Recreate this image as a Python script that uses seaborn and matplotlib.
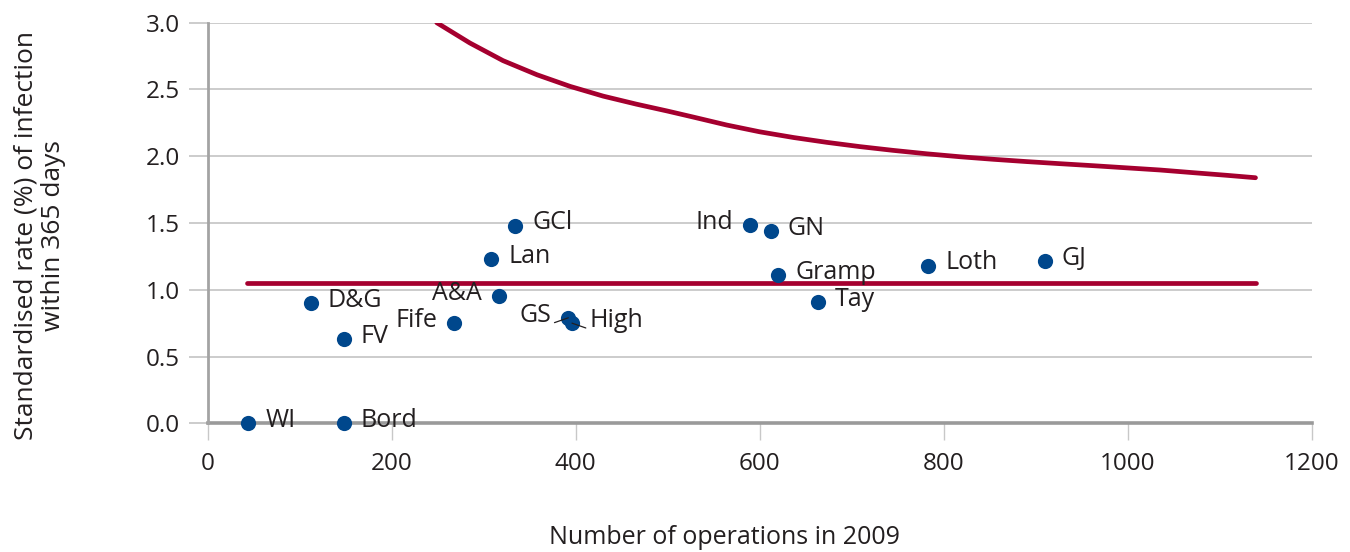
import matplotlib
matplotlib.use("Agg")
import matplotlib.pyplot as plt
import seaborn as sns
import pandas as pd

# ---- data ----
boards = ["WI", "Bord", "D&G", "FV", "Fife", "A&A", "Lan", "GCl", "GS", "High",
          "Ind", "GN", "Gramp", "Tay", "Loth", "GJ"]
operations = [44, 148, 112, 148, 268, 317, 308, 334, 392, 396,
              590, 612, 620, 663, 783, 910]
rates = [0.0, 0.0, 0.90, 0.63, 0.75, 0.95, 1.23, 1.48, 0.79, 0.75,
         1.485, 1.44, 1.11, 0.91, 1.18, 1.215]
# label side: +1 right, -1 left
label_side = [1, 1, 1, 1, -1, -1, 1, 1, -1, 1,
              -1, 1, 1, 1, 1, 1]

mean_x = [43, 1140]
mean_y = [1.05, 1.05]

limit_x = [249, 285, 321, 358, 394, 430, 466, 500, 528, 564, 600, 637, 673,
           709, 745, 782, 818, 854, 890, 927, 963, 999, 1035, 1071, 1108, 1139]
limit_y = [3.0, 2.848, 2.716, 2.610, 2.523, 2.450, 2.390, 2.338, 2.293, 2.234,
           2.183, 2.140, 2.104, 2.072, 2.044, 2.018, 1.996, 1.977, 1.960, 1.944,
           1.929, 1.913, 1.897, 1.877, 1.857, 1.839]

x_ticks = [0, 200, 400, 600, 800, 1000, 1200]
y_ticks = [0.0, 0.5, 1.0, 1.5, 2.0, 2.5, 3.0]
x_label = "Number of operations in 2009"
y_label = "Standardised rate (%) of infection\nwithin 365 days"

RED = "#A5002F"
BLUE = "#00478C"
TXT = "#231F20"
GRID = "#C8C8C8"

sns.set_theme(style="white")
plt.rcParams["font.family"] = ["Open Sans", "DejaVu Sans"]

fig = plt.figure(figsize=(13.5, 5.52), dpi=100)
ax = fig.add_axes([207.7 / 1350, 1 - 423.3 / 552, (1311.6 - 207.7) / 1350, (423.3 - 22.7) / 552])

pts = pd.DataFrame({"board": boards, "ops": operations, "rate": rates})
lim = pd.DataFrame({"ops": limit_x, "rate": limit_y})
mean = pd.DataFrame({"ops": mean_x, "rate": mean_y})

sns.lineplot(data=mean, x="ops", y="rate", ax=ax, color=RED, lw=3.4,
             solid_capstyle="round", zorder=3)
sns.lineplot(data=lim, x="ops", y="rate", ax=ax, color=RED, lw=3.4, sort=False,
             solid_capstyle="round", solid_joinstyle="round", zorder=3)
sns.scatterplot(data=pts, x="ops", y="rate", ax=ax, color=BLUE, s=120,
                linewidth=0, zorder=5, clip_on=False)

for b, xv, yv, side in zip(boards, operations, rates, label_side):
    kw = dict(xy=(xv, yv), xytext=(12.3 * side, 2), textcoords="offset points",
              ha="left" if side > 0 else "right", va="center",
              fontsize=18, color=TXT, zorder=6)
    if b == "GS":
        kw["arrowprops"] = dict(arrowstyle="-", color=TXT, lw=0.9,
                                relpos=(1.0, 0.15), shrinkA=0, shrinkB=0)
    elif b == "High":
        kw["arrowprops"] = dict(arrowstyle="-", color=TXT, lw=0.9,
                                relpos=(0.0, 0.15), shrinkA=0, shrinkB=0)
    ax.annotate(b, **kw)

ax.set_xlim(0, 1200)
ax.set_ylim(0, 3.0)
ax.set_xticks(x_ticks)
ax.set_yticks(y_ticks)
ax.set_yticklabels([f"{v:.1f}" for v in y_ticks])
ax.yaxis.grid(True, color=GRID, lw=1.3)
ax.xaxis.grid(False)
ax.set_axisbelow(True)

for s in ["top", "right"]:
    ax.spines[s].set_visible(False)
ax.spines["left"].set_color("#A3A3A3")
ax.spines["left"].set_linewidth(2)
ax.spines["bottom"].set_color("#9A9A9A")
ax.spines["bottom"].set_linewidth(2.6)
ax.spines["bottom"].set_zorder(2)

ax.tick_params(axis="y", which="both", left=True, length=14, width=1.3, color=GRID,
               pad=6, labelsize=17.5, labelcolor=TXT)
ax.tick_params(axis="x", which="both", bottom=True, length=12.5, width=1, color=GRID,
               pad=8, labelsize=17.5, labelcolor=TXT)

ax.set_xlabel(x_label, fontsize=18, color=TXT)
ax.xaxis.set_label_coords(0.468, -0.255)
ax.set_ylabel(y_label, fontsize=19, color=TXT, linespacing=1.15)
ax.yaxis.label.set_va("center")
ax.yaxis.set_label_coords(-0.152, 0.468)

fig.savefig("out.png", dpi=100)
